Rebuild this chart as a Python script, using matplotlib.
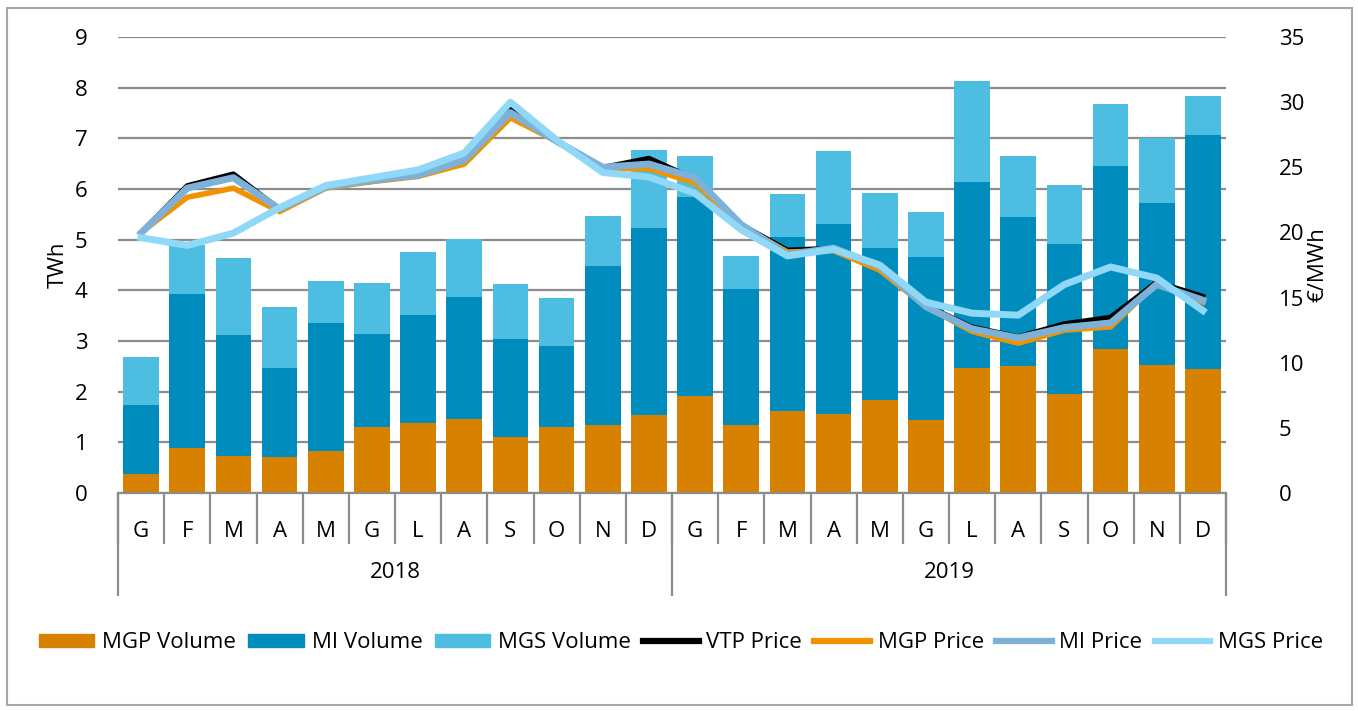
import numpy as np
import matplotlib
matplotlib.use("Agg")
import matplotlib.pyplot as plt
from matplotlib.patches import Patch, Rectangle
from matplotlib.lines import Line2D

plt.rcParams['font.family'] = ['Open Sans', 'DejaVu Sans']

months = ['G', 'F', 'M', 'A', 'M', 'G', 'L', 'A', 'S', 'O', 'N', 'D'] * 2
years = ['2018', '2019']

# volumes (TWh), stacked
mgp_vol = [0.37, 0.89, 0.73, 0.71, 0.83, 1.31, 1.38, 1.46, 1.11, 1.31, 1.34, 1.54,
           1.91, 1.34, 1.62, 1.56, 1.84, 1.44, 2.46, 2.50, 1.95, 2.84, 2.53, 2.45]
mi_cum = [1.74, 3.93, 3.12, 2.47, 3.35, 3.14, 3.51, 3.87, 3.04, 2.90, 4.48, 5.23,
          5.85, 4.02, 5.06, 5.31, 4.84, 4.66, 6.14, 5.44, 4.91, 6.46, 5.72, 7.07]
tot_cum = [2.68, 4.90, 4.64, 3.67, 4.18, 4.14, 4.76, 5.01, 4.12, 3.84, 5.47, 6.77,
           6.65, 4.68, 5.90, 6.75, 5.92, 5.54, 8.13, 6.65, 6.07, 7.67, 7.00, 7.84]
mi_vol = [b - a for a, b in zip(mgp_vol, mi_cum)]
mgs_vol = [b - a for a, b in zip(mi_cum, tot_cum)]

# prices (EUR/MWh)
vtp_price = [20.0, 23.6, 24.5, 21.8, 23.5, 23.9, 24.4, 25.5, 29.5, 27.0, 25.0, 25.7,
             24.1, 20.6, 18.65, 18.8, 17.4, 14.4, 12.75, 12.0, 13.0, 13.5, 16.2, 15.1]
mgp_price = [20.0, 22.7, 23.4, 21.6, 23.4, 23.9, 24.3, 25.25, 28.8, 27.0, 24.9, 24.9,
             23.8, 20.5, 18.5, 18.6, 17.1, 14.3, 12.4, 11.5, 12.5, 12.75, 16.1, 14.65]
mi_price = [19.95, 23.4, 24.2, 21.8, 23.5, 24.0, 24.4, 25.55, 29.2, 27.0, 25.0, 25.25,
            24.2, 20.6, 18.3, 18.8, 17.4, 14.3, 12.6, 11.9, 12.7, 13.05, 16.0, 14.8]
mgs_price = [19.6, 19.0, 19.95, 21.9, 23.6, 24.2, 24.8, 26.1, 30.0, 27.1, 24.6, 24.25,
             23.0, 20.2, 18.2, 18.7, 17.5, 14.65, 13.8, 13.65, 16.0, 17.35, 16.5, 14.0]

c_mgp_v = '#d68200'
c_mi_v = '#008dbd'
c_mgs_v = '#4dbde2'
c_vtp = '#000000'
c_mgp_p = '#f39200'
c_mi_p = '#7eb1d8'
c_mgs_p = '#8fd8f8'
grid_c = '#8c8c8c'

fig = plt.figure(figsize=(13.58, 7.11), dpi=100)
W, H = 1358, 711
fig.patches.append(Rectangle((7 / W, 1 - 705 / H), 1345 / W, 697 / H, transform=fig.transFigure,
                             fill=False, edgecolor='#a6a6a6', linewidth=1.5))

ax = fig.add_axes([118 / W, 1 - 493 / H, 1108 / W, 456 / H])
x = np.arange(len(months))
bw = 0.77
ax.bar(x, mgp_vol, bw, color=c_mgp_v, zorder=2)
ax.bar(x, mi_vol, bw, bottom=mgp_vol, color=c_mi_v, zorder=2)
ax.bar(x, mgs_vol, bw, bottom=mi_cum, color=c_mgs_v, zorder=2)

ax.set_xlim(-0.5, len(months) - 0.5)
ax.set_ylim(0, 9)
ax.set_yticks(range(0, 10))
ax.yaxis.grid(True, color=grid_c, linewidth=1.6, zorder=0)
ax.set_axisbelow(True)
for s in ['top', 'left', 'right']:
    ax.spines[s].set_visible(False)
ax.spines['bottom'].set_color(grid_c)
ax.spines['bottom'].set_linewidth(1.6)
ax.tick_params(axis='y', length=0, labelsize=16, pad=22)
ax.set_ylabel('TWh', fontsize=16, labelpad=4)

ax.set_xticks(x)
ax.set_xticklabels(months, fontsize=16)
ax.set_xticks(np.arange(-0.5, len(months), 1), minor=True)
ax.tick_params(axis='x', which='major', length=0, pad=20)
ax.tick_params(axis='x', which='minor', length=37, width=1.6, color=grid_c, direction='out')

# year level of the axis
sec = ax.secondary_xaxis('bottom')
sec.set_xticks([-0.5, 11.5, 23.5])
sec.set_xticklabels([])
sec.tick_params(axis='x', length=74, width=1.6, color=grid_c)
sec.spines['bottom'].set_visible(False)
sec2 = ax.secondary_xaxis('bottom')
sec2.set_xticks([5.5, 17.5])
sec2.set_xticklabels(years, fontsize=16)
sec2.tick_params(axis='x', length=0, pad=50)
sec2.spines['bottom'].set_visible(False)

ax2 = ax.twinx()
ax2.plot(x, vtp_price, color=c_vtp, linewidth=3.5, zorder=3)
ax2.plot(x, mgp_price, color=c_mgp_p, linewidth=4, zorder=4)
ax2.plot(x, mi_price, color=c_mi_p, linewidth=5, zorder=5)
ax2.plot(x, mgs_price, color=c_mgs_p, linewidth=5, zorder=6)
ax2.set_ylim(0, 35)
ax2.set_yticks(range(0, 36, 5))
for s in ['top', 'left', 'right', 'bottom']:
    ax2.spines[s].set_visible(False)
ax2.tick_params(axis='y', length=0, labelsize=16, pad=38)
ax2.set_ylabel('€/MWh', fontsize=16, labelpad=2)

handles = [Patch(color=c_mgp_v), Patch(color=c_mi_v), Patch(color=c_mgs_v),
           Line2D([], [], color=c_vtp, linewidth=4.5),
           Line2D([], [], color=c_mgp_p, linewidth=4.5),
           Line2D([], [], color=c_mi_p, linewidth=4.5),
           Line2D([], [], color=c_mgs_p, linewidth=4.5)]
labels = ['MGP Volume', 'MI Volume', 'MGS Volume', 'VTP Price', 'MGP Price', 'MI Price', 'MGS Price']
fig.legend(handles, labels, loc='center', bbox_to_anchor=(681 / W, 1 - 643 / H), ncol=7,
           frameon=False, fontsize=16, handlelength=2.5, handleheight=0.55,
           handletextpad=0.35, columnspacing=0.55)

fig.savefig('out.png', dpi=100)
